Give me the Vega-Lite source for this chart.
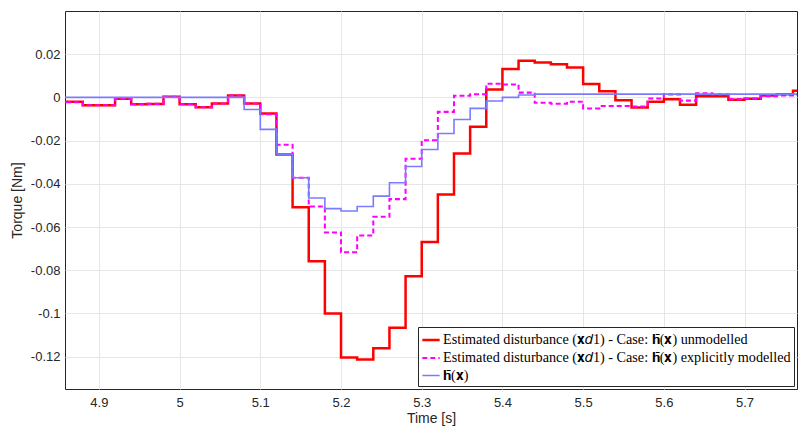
{
  "$schema": "https://vega.github.io/schema/vega-lite/v6.json",
  "width": 732,
  "height": 378,
  "autosize": {"type": "none"},
  "padding": {"left": 65, "top": 11, "right": 1, "bottom": 40},
  "config": {
    "locale": {"number": {"decimal": ".", "thousands": ",", "grouping": [3], "currency": ["$", ""], "minus": "-"}},
    "view": {"stroke": "#262626", "strokeWidth": 1},
    "axis": {
      "gridColor": "#e6e6e6",
      "domain": false,
      "ticks": false,
      "labelFont": "Liberation Sans",
      "labelFontSize": 13,
      "labelColor": "#262626",
      "titleFont": "Liberation Sans",
      "titleFontSize": 14,
      "titleFontWeight": "normal",
      "titleColor": "#262626"
    }
  },
  "data": {
    "values": [
      {"t": 4.84, "u": -0.0020, "m": -0.0020, "h": 0},
      {"t": 4.86, "u": -0.0020, "m": -0.0022, "h": 0},
      {"t": 4.88, "u": -0.0036, "m": -0.0036, "h": 0},
      {"t": 4.90, "u": -0.0036, "m": -0.0036, "h": 0},
      {"t": 4.92, "u": -0.0006, "m": -0.0006, "h": 0},
      {"t": 4.94, "u": -0.0032, "m": -0.0032, "h": 0},
      {"t": 4.96, "u": -0.0030, "m": -0.0030, "h": 0},
      {"t": 4.98, "u": 0.0003, "m": 0.0003, "h": 0},
      {"t": 5.00, "u": -0.0032, "m": -0.0032, "h": 0},
      {"t": 5.02, "u": -0.0046, "m": -0.0046, "h": 0},
      {"t": 5.04, "u": -0.0028, "m": -0.0028, "h": 0},
      {"t": 5.06, "u": 0.0009, "m": 0.0009, "h": 0},
      {"t": 5.08, "u": -0.0028, "m": -0.0028, "h": -0.0056},
      {"t": 5.10, "u": -0.0074, "m": -0.0078, "h": -0.0148},
      {"t": 5.12, "u": -0.0264, "m": -0.0219, "h": -0.0264},
      {"t": 5.14, "u": -0.0508, "m": -0.0372, "h": -0.0372},
      {"t": 5.16, "u": -0.0759, "m": -0.0505, "h": -0.0466},
      {"t": 5.18, "u": -0.1000, "m": -0.0625, "h": -0.0515},
      {"t": 5.20, "u": -0.1204, "m": -0.0717, "h": -0.0526},
      {"t": 5.22, "u": -0.1214, "m": -0.0639, "h": -0.0505},
      {"t": 5.24, "u": -0.1161, "m": -0.0553, "h": -0.0457},
      {"t": 5.26, "u": -0.1067, "m": -0.0471, "h": -0.0395},
      {"t": 5.28, "u": -0.0828, "m": -0.0284, "h": -0.0320},
      {"t": 5.30, "u": -0.0670, "m": -0.0198, "h": -0.0241},
      {"t": 5.32, "u": -0.0450, "m": -0.0067, "h": -0.0167},
      {"t": 5.34, "u": -0.0260, "m": 0.0008, "h": -0.0102},
      {"t": 5.36, "u": -0.0136, "m": 0.0015, "h": -0.0051},
      {"t": 5.38, "u": 0.0036, "m": 0.0063, "h": -0.0017},
      {"t": 5.40, "u": 0.0131, "m": 0.0060, "h": 0.0000},
      {"t": 5.42, "u": 0.0170, "m": 0.0022, "h": 0.0011},
      {"t": 5.44, "u": 0.0162, "m": -0.0025, "h": 0.0015},
      {"t": 5.46, "u": 0.0154, "m": -0.0029, "h": 0.0015},
      {"t": 5.48, "u": 0.0139, "m": -0.0020, "h": 0.0015},
      {"t": 5.50, "u": 0.0062, "m": -0.0051, "h": 0.0015},
      {"t": 5.52, "u": 0.0028, "m": -0.0040, "h": 0.0015},
      {"t": 5.54, "u": -0.0013, "m": -0.0040, "h": 0.0015},
      {"t": 5.56, "u": -0.0047, "m": -0.0042, "h": 0.0015},
      {"t": 5.58, "u": -0.0020, "m": -0.0005, "h": 0.0015},
      {"t": 5.60, "u": -0.0009, "m": 0.0014, "h": 0.0015},
      {"t": 5.62, "u": -0.0034, "m": -0.0015, "h": 0.0015},
      {"t": 5.64, "u": 0.0005, "m": 0.0019, "h": 0.0015},
      {"t": 5.66, "u": 0.0005, "m": 0.0014, "h": 0.0015},
      {"t": 5.68, "u": -0.0011, "m": -0.0008, "h": 0.0015},
      {"t": 5.70, "u": -0.0006, "m": -0.0005, "h": 0.0015},
      {"t": 5.72, "u": 0.0009, "m": 0.0006, "h": 0.0015},
      {"t": 5.74, "u": 0.0015, "m": 0.0009, "h": 0.0015},
      {"t": 5.76, "u": 0.0031, "m": 0.0014, "h": 0.0015},
      {"t": 5.78, "u": 0.0031, "m": 0.0014, "h": 0.0015}
    ]
  },
  "transform": [{"fold": ["u", "m", "h"], "as": ["s", "v"]}],
  "mark": {"type": "line", "interpolate": "step-after", "clip": true},
  "encoding": {
    "x": {
      "field": "t", "type": "quantitative",
      "scale": {"domain": [4.858, 5.765], "nice": false, "zero": false},
      "axis": {"values": [4.9, 5, 5.1, 5.2, 5.3, 5.4, 5.5, 5.6, 5.7], "format": "~g", "title": "Time [s]", "labelPadding": 7, "titlePadding": 2}
    },
    "y": {
      "field": "v", "type": "quantitative",
      "scale": {"domain": [-0.135, 0.04], "nice": false, "zero": false},
      "axis": {"values": [-0.12, -0.1, -0.08, -0.06, -0.04, -0.02, 0, 0.02], "format": "~g", "title": "Torque [Nm]", "labelPadding": 5, "titlePadding": 6}
    },
    "color": {
      "field": "s", "type": "nominal",
      "scale": {"domain": ["u", "m", "h"], "range": ["#ff0000", "#ff00ff", "#7b7bff"]},
      "legend": {
        "title": null,
        "orient": "none",
        "legendX": 353,
        "legendY": 316,
        "padding": 3,
        "fillColor": "#ffffff",
        "strokeColor": "#262626",
        "symbolType": "stroke",
        "symbolSize": 300,
        "labelFont": "Liberation Serif",
        "labelFontSize": 14.2,
        "labelColor": "#000000",
        "labelOffset": 2,
        "labelLimit": 600,
        "rowPadding": -1.5,
        "labelExpr": "datum.label == 'u' ? 'Estimated disturbance (𝐱𝑑1) - Case: 𝐡̄(𝐱) unmodelled' : datum.label == 'm' ? 'Estimated disturbance (𝐱𝑑1) - Case: 𝐡̄(𝐱) explicitly modelled' : '𝐡̄(𝐱)'"
      }
    },
    "strokeDash": {
      "field": "s", "type": "nominal",
      "scale": {"domain": ["u", "m", "h"], "range": [[1, 0], [5, 3], [1, 0]]}
    },
    "strokeWidth": {
      "field": "s", "type": "nominal",
      "scale": {"domain": ["u", "m", "h"], "range": [2.5, 1.6, 0.9]}
    }
  }
}
